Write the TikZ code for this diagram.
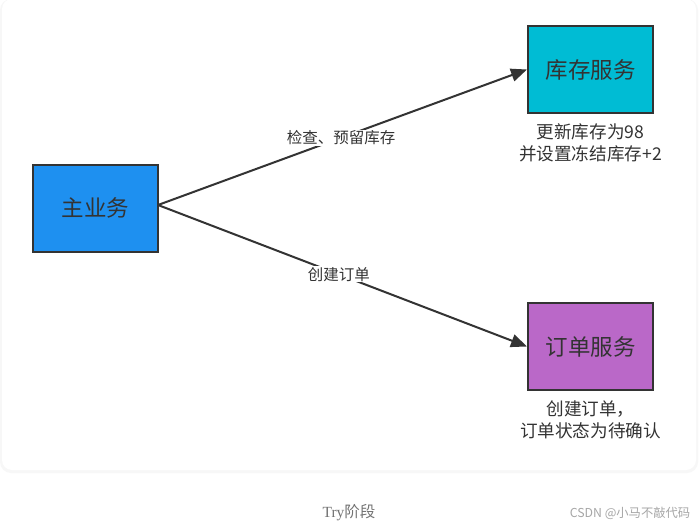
\documentclass[tikz,border=0pt]{standalone}
\usepackage{fontspec}
\setmainfont{Liberation Serif}
\newfontfamily\cjk{Noto Sans CJK SC}
\usetikzlibrary{arrows.meta,calc}
\definecolor{blueA}{RGB}{30,144,240}
\definecolor{cyanA}{RGB}{0,188,212}
\definecolor{purpA}{RGB}{186,104,200}
\definecolor{txt}{RGB}{51,51,51}
\tikzset{
  svc/.style={draw=txt, line width=2pt, minimum width=125pt, minimum height=87pt, inner sep=0pt, font=\cjk\fontsize{22.5}{25}\selectfont, text=txt},
  lbl/.style={font=\cjk\fontsize{15.5}{21}\selectfont, text=txt, align=center, inner sep=1pt},
  note/.style={font=\cjk\fontsize{17.6}{22}\selectfont, text=txt, align=center, inner sep=1pt},
  flow/.style={draw=txt, line width=2pt, -{Triangle[length=16pt,width=13pt]}},
}
\begin{document}
\begin{tikzpicture}[x=1pt,y=-1pt]
\useasboundingbox (0,0) rectangle (699,527);
\fill[white] (0,0) rectangle (699,527);
% card with soft shadow
\fill[black!6, rounded corners=11pt] (1,-1) rectangle (697,472);
\fill[black!3, rounded corners=11pt] (0,-1) rectangle (698,473);
\fill[white, rounded corners=10pt] (2,-1) rectangle (696,470);
% nodes
\node[svc, fill=blueA] (main) at (95.5,208) {主业务};
\node[svc, fill=cyanA] (stock) at (590.5,69.5) {库存服务};
\node[svc, fill=purpA] (order) at (590.5,346.5) {订单服务};
\coordinate (src) at (158,205);
\draw[flow] (src) -- (stock.west) node[pos=0.496, lbl, fill=white] (l1) {检查、预留库存};
\draw[flow] (src) -- (order.west) node[pos=0.49, lbl, fill=white] (l2) {创建订单};
\node[note] (n1) at ($(stock.south)+(0,28.5)$) {更新库存为98\\并设置冻结库存+2};
\node[note] (n2) at ($(order.south)+(0,29)$) {创建订单，\\订单状态为待确认};
\node[font=\fontsize{15.5}{17}\selectfont, text=black!55] (cap) at (349,513) {Try{\cjk 阶段}};
\node[font=\cjk\fontsize{12.3}{14}\selectfont, text=black!35] (wm) at (630,513) {CSDN @小马不敲代码};
\end{tikzpicture}
\end{document}
